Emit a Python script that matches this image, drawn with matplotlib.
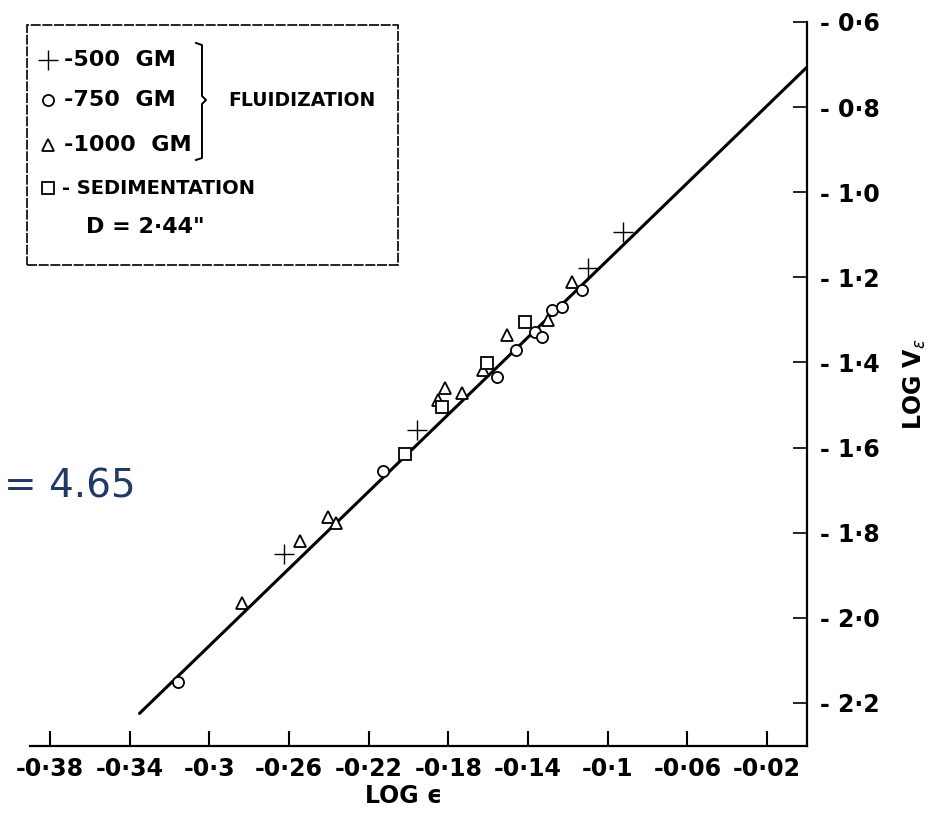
import numpy as np
import matplotlib
matplotlib.use('Agg')
import matplotlib.pyplot as plt
from matplotlib.patches import Rectangle

# log(eps) , log(Vc)
x500 = [-0.2626, -0.1958, -0.110, -0.0924]
y500 = [-1.850, -1.559, -1.178, -1.094]

x750 = [-0.3158, -0.2129, -0.1556, -0.1461, -0.1365, -0.133, -0.128, -0.123, -0.113]
y750 = [-2.151, -1.655, -1.434, -1.371, -1.329, -1.340, -1.277, -1.270, -1.230]

x1000 = [-0.2836, -0.2545, -0.2405, -0.2364, -0.1852, -0.1817, -0.1732, -0.1627, -0.1506, -0.130, -0.118]
y1000 = [-1.965, -1.820, -1.763, -1.777, -1.488, -1.460, -1.472, -1.418, -1.336, -1.300, -1.211]

xsed = [-0.2018, -0.183, -0.1606, -0.1416]
ysed = [-1.615, -1.505, -1.401, -1.305]

# fitted line end points
xfit = [-0.335, 0.0]
yfit = [-2.225, -0.706]

xticks = [-0.38, -0.34, -0.30, -0.26, -0.22, -0.18, -0.14, -0.10, -0.06, -0.02]
xticklabels = ['-0·38', '-0·34', '-0·3', '-0·26', '-0·22', '-0·18', '-0·14', '-0·1', '-0·06', '-0·02']
yticks = [-0.6, -0.8, -1.0, -1.2, -1.4, -1.6, -1.8, -2.0, -2.2]
yticklabels = ['- 0·6', '- 0·8', '- 1·0', '- 1·2', '- 1·4', '- 1·6', '- 1·8', '- 2·0', '- 2·2']

W, H = 934, 819
fig = plt.figure(figsize=(W / 100, H / 100), dpi=100)
ax = fig.add_axes([0, (H - 746) / H, 807 / W, (746 - 22) / H])
ax.set_xlim(-0.405, 0.0)
ax.set_ylim(-2.3015, -0.6)

fam = 'DejaVu Sans'

ax.plot(xfit, yfit, color='black', lw=2.2, solid_capstyle='round')
mk = dict(color='black', linestyle='none', mfc='white', mew=1.3, ms=8)
ax.plot(x500, y500, marker='+', ms=14, color='black', linestyle='none', mew=1.0)
ax.plot(x750, y750, marker='o', **mk)
ax.plot(x1000, y1000, marker='^', **mk)
ax.plot(xsed, ysed, marker='s', **mk)

for s in ['left', 'top']:
    ax.spines[s].set_visible(False)
ax.spines['bottom'].set_linewidth(1.6)
ax.spines['right'].set_linewidth(1.6)
ax.spines['bottom'].set_bounds(-0.39, 0.0)

ax.set_xticks(xticks)
ax.set_xticklabels(xticklabels, family=fam, fontsize=17, fontweight='bold')
ax.tick_params(axis='x', direction='in', length=11, width=1.5, pad=8)

ax.yaxis.tick_right()
ax.set_yticks(yticks)
ax.set_yticklabels(yticklabels, family=fam, fontsize=17, fontweight='bold')
ax.tick_params(axis='y', direction='in', length=10, width=1.2, pad=9,
               right=True, left=False)

ax.set_xlabel('LOG \u03f5', family=fam, fontsize=17, fontweight='bold', labelpad=2)
ax.yaxis.set_label_position('right')
ax.set_ylabel('LOG V$_\\epsilon$', family=fam, fontsize=17, fontweight='bold',
              rotation=90, labelpad=16)


# legend box, drawn by hand in axes fraction
def ax_pt(px, py):
    return px / 807, (746 - py) / 724


x0, y0 = ax_pt(27, 265)
x1, y1 = ax_pt(398, 25)
ax.add_patch(Rectangle((x0, y0), x1 - x0, y1 - y0, transform=ax.transAxes,
                       fill=False, lw=1.2, ls=(0, (6, 1)), color='black', clip_on=False))

rows = [('+', '-500  GM', 60), ('o', '-750  GM', 100), ('^', '-1000  GM', 145)]
for m, lab, py in rows:
    mx, my = ax_pt(48, py)
    if m == '+':
        ax.plot([mx], [my], marker='+', ms=14, mew=1.0, color='black',
                transform=ax.transAxes, clip_on=False)
    else:
        ax.plot([mx], [my], marker=m, ms=8, mew=1.3, mfc='white', color='black',
                transform=ax.transAxes, clip_on=False)
    tx, ty = ax_pt(64, py)
    ax.text(tx, ty, lab, transform=ax.transAxes, family=fam, fontsize=16,
            fontweight='bold', va='center', ha='left')

mx, my = ax_pt(48, 188)
ax.plot([mx], [my], marker='s', ms=8, mew=1.3, mfc='white', color='black',
        transform=ax.transAxes, clip_on=False)
tx, ty = ax_pt(62, 188)
ax.text(tx, ty, '- SEDIMENTATION', transform=ax.transAxes, family=fam, fontsize=14,
        fontweight='bold', va='center', ha='left')
tx, ty = ax_pt(86, 227)
ax.text(tx, ty, 'D = 2·44"', transform=ax.transAxes, family=fam, fontsize=16,
        fontweight='bold', va='center', ha='left')
tx, ty = ax_pt(228, 100)
ax.text(tx, ty, 'FLUIDIZATION', transform=ax.transAxes, family=fam, fontsize=13.5,
        fontweight='bold', va='center', ha='left')

# brace
bp = [(196, 43), (202, 45), (202, 96), (206, 100), (202, 104), (202, 158), (196, 160)]
bx, by = zip(*[ax_pt(a, b) for a, b in bp])
ax.plot(bx, by, color='black', lw=1.4, transform=ax.transAxes, clip_on=False)

# slope note pasted over the scan
fig.text(4 / W, 1 - 487 / H, '= 4.65', color='#1f3864', fontsize=28,
         ha='left', va='center')

fig.savefig('out.png', dpi=100)
